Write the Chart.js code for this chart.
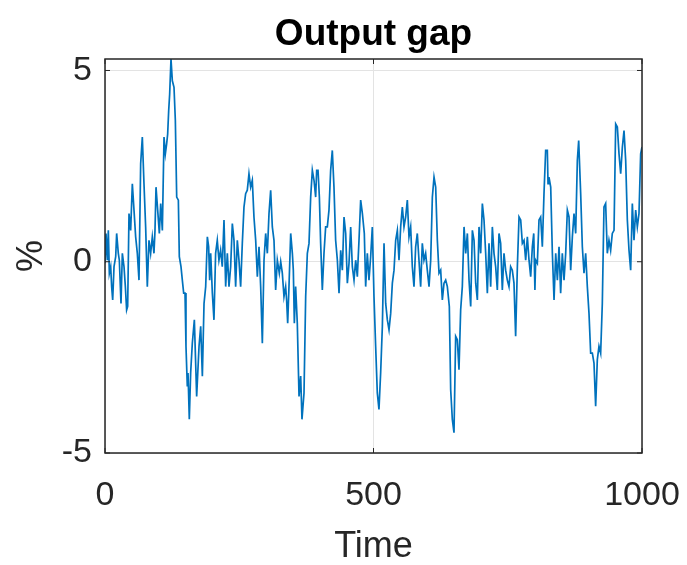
<!DOCTYPE html>
<html>
<head>
<meta charset="utf-8">
<script src="https://cdn.jsdelivr.net/npm/chart.js@4"></script>
<style>
  html, body { margin: 0; padding: 0; background: #fff; }
  #wrap { width: 687px; height: 565px; }
</style>
</head>
<body>
<div id="wrap"><canvas id="gapChart"></canvas></div>
<script>
// time points and output gap (%)
const times = [
  0.0, 1.9, 4.3, 6.2, 8.1, 10.6, 12.4, 14.3, 16.8, 19.9, 21.7, 24.8, 26.7, 29.8, 32.3, 35.4, 37.9, 40.3, 42.2, 44.7,
  47.8, 50.9, 54.0, 57.1, 60.2, 63.3, 66.4, 69.5, 72.6, 75.7, 78.8, 81.9, 85.0, 88.1, 91.2, 93.1, 95.0, 98.1, 101.2, 103.7,
  106.8, 109.9, 112.4, 114.8, 116.7, 118.6, 120.4, 122.9, 125.4, 128.5, 131.0, 133.5, 136.6, 138.4, 141.5, 144.0, 146.5, 149.0, 150.8, 153.3,
  154.6, 157.0, 159.5, 162.6, 166.4, 170.7, 175.1, 178.2, 181.3, 184.4, 187.5, 190.6, 193.0, 194.9, 196.8, 199.9, 202.9, 206.0, 209.1, 212.2,
  215.3, 218.4, 221.6, 224.7, 227.8, 230.9, 234.0, 237.1, 240.2, 243.3, 246.4, 249.5, 252.6, 255.7, 258.8, 261.9, 265.0, 268.1, 271.2, 274.3,
  277.4, 280.6, 283.7, 286.8, 289.9, 293.0, 296.1, 299.2, 302.3, 305.4, 308.5, 311.6, 314.7, 317.8, 320.9, 324.6, 327.2, 330.2, 333.3, 336.4,
  338.2, 340.2, 342.6, 345.8, 348.9, 350.7, 352.6, 355.0, 358.1, 361.3, 364.4, 366.8, 370.6, 373.7, 376.8, 379.9, 383.0, 386.1, 389.2, 392.3,
  394.2, 396.7, 399.2, 401.6, 404.7, 407.8, 410.9, 414.0, 417.1, 420.2, 423.3, 426.4, 429.5, 432.7, 435.8, 438.9, 442.0, 445.1, 448.2, 451.3,
  454.4, 457.5, 460.6, 463.7, 466.8, 469.9, 473.0, 476.1, 479.3, 482.9, 485.4, 488.5, 491.6, 494.7, 497.8, 500.9, 504.0, 507.1, 510.2, 513.3,
  516.5, 519.6, 522.7, 525.8, 528.9, 532.0, 535.1, 538.2, 541.3, 544.4, 547.5, 550.6, 553.7, 556.8, 559.9, 563.0, 566.1, 569.2, 572.3, 575.4,
  578.5, 581.6, 584.7, 587.8, 590.9, 594.0, 597.1, 600.2, 603.4, 606.5, 609.6, 612.7, 615.8, 618.9, 622.0, 625.1, 628.2, 631.3, 634.4, 637.5,
  641.2, 643.7, 646.8, 649.9, 653.0, 656.1, 659.2, 662.3, 665.4, 668.6, 671.7, 674.8, 677.9, 681.0, 684.1, 687.2, 690.3, 693.4, 696.5, 699.6,
  702.7, 705.8, 708.9, 712.0, 715.1, 718.2, 721.3, 724.4, 727.5, 730.6, 733.7, 736.8, 739.9, 743.0, 746.1, 749.2, 752.3, 755.4, 758.5, 761.6,
  764.7, 767.9, 771.0, 774.1, 777.2, 780.3, 783.4, 786.5, 789.6, 792.7, 795.8, 798.4, 800.6, 802.0, 805.1, 808.2, 811.3, 814.4, 817.5, 820.6,
  823.7, 825.0, 826.8, 830.0, 833.1, 836.2, 839.3, 842.4, 845.5, 848.5, 851.6, 854.8, 857.9, 861.0, 864.1, 867.2, 870.3, 873.4, 876.5, 879.6,
  882.1, 885.8, 888.9, 892.0, 895.1, 898.2, 901.3, 904.4, 907.5, 910.6, 913.7, 916.8, 919.9, 923.0, 926.1, 929.2, 932.3, 935.4, 938.5, 941.6,
  944.7, 947.9, 951.0, 954.1, 957.2, 960.3, 963.4, 966.5, 969.6, 972.7, 975.8, 978.9, 982.0, 985.1, 988.2, 991.3, 994.4, 997.5, 1000.0
];
const gap = [
  -0.04, 0.74, 0.04, 0.82, -0.30, -0.13, -0.65, -1.0, -0.13, 0.13, 0.74, 0.22, 0.04, -1.09, 0.22, -0.13, -0.65, -1.26, -1.17, 1.26,
  0.82, 2.04, 1.35, 0.65, 0.22, -0.48, 2.56, 3.26, 2.04, 0.91, -0.65, 0.56, 0.22, 0.65, 0.22, 0.82, 1.95, 1.35, 0.74, 1.52,
  0.82, 3.26, 2.82, 3.08, 3.34, 3.95, 4.38, 5.3, 4.73, 4.56, 3.69, 1.69, 1.61, 0.13, -0.13, -0.48, -0.82, -0.82, -2.21, -3.26,
  -2.91, -4.12, -2.91, -2.13, -1.52, -3.52, -2.21, -1.69, -2.99, -1.09, -0.65, 0.65, 0.39, -0.48, 0.22, -0.82, -1.52, 0.22, 0.56, 0.04,
  0.30, -0.13, 1.09, -0.65, 0.22, -0.65, -0.13, 1.0, 0.56, -0.65, 0.56, 0.04, -0.65, 0.48, 1.43, 1.78, 1.87, 2.30, 1.95, 2.13,
  1.17, 0.56, -0.39, 0.39, -0.65, -2.13, 0.04, 0.74, 0.22, 1.26, 1.87, 0.91, 0.56, -0.74, 0.04, -0.30, 0.0, -0.30, -0.91, -0.65,
  -1.0, -1.61, -0.65, 0.74, 0.22, -0.22, -1.61, -0.65, -1.61, -3.52, -2.99, -4.12, -3.43, -0.91, 0.22, 0.48, 1.69, 2.39, 2.13, 1.69,
  2.39, 2.39, 1.69, 0.48, -0.74, 0.22, 0.91, 0.91, 1.35, 2.39, 2.91, 1.95, 0.56, 0.04, -0.82, 0.30, -0.22, 1.17, 0.74, -0.56,
  -0.04, 0.91, -0.13, -0.48, 0.04, -0.39, 0.56, 1.61, 1.26, 0.74, -0.65, 0.22, -0.48, 0.13, 0.91, -0.91, -2.21, -3.43, -3.86, -2.91,
  -1.69, 0.48, -1.09, -1.52, -1.78, -1.35, -0.56, -0.22, 0.56, 0.82, 0.04, 0.91, 1.43, 0.91, 1.17, 1.61, 0.65, 0.91, -0.13, -0.65,
  0.39, 0.74, 0.04, -0.65, 0.48, 0.04, 0.22, -0.22, -0.65, 0.04, 1.69, 2.21, 1.95, 0.56, -0.30, -0.22, -1.0, -0.56, -0.48, -0.65,
  -1.17, -3.34, -4.12, -4.47, -1.95, -2.04, -2.82, -1.26, -0.65, 0.91, 0.22, 0.74, -0.48, -1.17, 0.82, 0.56, -0.56, -1.0, 0.91, 0.22,
  1.52, 1.09, 0.22, -0.82, 0.48, -0.65, 0.91, 0.22, -0.13, -0.74, 0.74, 0.48, -0.74, 0.22, -0.22, -0.48, -0.65, -0.13, -0.22, -0.56,
  -1.95, -0.13, 1.17, 1.09, 0.48, 0.56, 0.04, 0.65, 0.04, -0.39, 0.39, 0.74, -0.74, 0.04, -0.04, 1.09, 1.17, 0.39, 1.78, 2.91,
  2.91, 2.04, 2.21, 1.95, 0.22, -1.0, 0.22, -0.48, 0.39, -0.82, 0.22, -0.48, 0.22, 1.35, 1.17, -0.22, 0.65, 1.26, 0.74, 2.65,
  3.17, 1.78, 0.39, -0.30, 0.22, -0.65, -1.35, -2.39, -2.39, -2.65, -3.78, -2.56, -2.21, -2.39, -1.09, 1.43, 1.52, 0.22, 0.56, 0.30,
  0.74, 0.82, 3.60, 3.52, 2.82, 2.30, 2.99, 3.43, 2.65, 1.09, 0.30, -0.22, 1.52, 0.56, 1.35, 0.91, 1.26, 2.82, 3.0
];

const xTicks = [0, 500, 1000];
const yTicks = [-5, 0, 5];
const xRange = [0, 1000];
const yRange = [-5, 5.3];

const FONT = "'Liberation Sans', Arial, Helvetica, sans-serif";
const AXIS = '#262626';

// MATLAB style box: full frame plus short inward ticks on all four sides
const boxPlugin = {
  id: 'box',
  afterDraw(chart) {
    const { ctx, chartArea: a, scales } = chart;
    ctx.save();
    ctx.strokeStyle = AXIS;
    ctx.lineWidth = 1.5;
    ctx.strokeRect(a.left, a.top, a.right - a.left, a.bottom - a.top);
    ctx.lineWidth = 1;
    const len = 5;
    xTicks.forEach(v => {
      const px = scales.x.getPixelForValue(v);
      ctx.beginPath();
      ctx.moveTo(px, a.bottom); ctx.lineTo(px, a.bottom - len);
      ctx.moveTo(px, a.top); ctx.lineTo(px, a.top + len);
      ctx.stroke();
    });
    yTicks.forEach(v => {
      const py = scales.y.getPixelForValue(v);
      ctx.beginPath();
      ctx.moveTo(a.left, py); ctx.lineTo(a.left + len, py);
      ctx.moveTo(a.right, py); ctx.lineTo(a.right - len, py);
      ctx.stroke();
    });
    ctx.restore();
  }
};

new Chart(document.getElementById('gapChart'), {
  type: 'line',
  data: {
    datasets: [{
      data: times.map((t, i) => ({ x: t, y: gap[i] })),
      borderColor: '#0072BD',
      borderWidth: 1.7,
      pointRadius: 0,
      tension: 0,
      fill: false
    }]
  },
  options: {
    responsive: true,
    maintainAspectRatio: false,
    animation: false,
    layout: { padding: { left: 0, right: 45, top: 0, bottom: 0 } },
    plugins: {
      legend: { display: false },
      tooltip: { enabled: false }
    },
    scales: {
      // empty top axis, used only to centre the title over the plot box
      top: {
        type: 'linear',
        position: 'top',
        min: xRange[0],
        max: xRange[1],
        afterFit: s => { s.height = 59; s.paddingLeft = 0; s.paddingRight = 0; },
        grid: { display: false },
        border: { display: false },
        ticks: { display: false },
        title: {
          display: true,
          text: 'Output gap',
          color: '#000',
          font: { family: FONT, size: 37, weight: 'bold', lineHeight: 1.2 },
          padding: { top: 13, bottom: 0 }
        }
      },
      x: {
        type: 'linear',
        min: xRange[0],
        max: xRange[1],
        afterBuildTicks: s => { s.ticks = xTicks.map(v => ({ value: v })); },
        afterFit: s => { s.height = 112; s.paddingLeft = 0; s.paddingRight = 0; },
        grid: { color: '#e3e3e3', lineWidth: 1, drawTicks: false },
        border: { display: false },
        ticks: {
          color: AXIS,
          padding: 22,
          maxRotation: 0,
          font: { family: FONT, size: 34 },
          callback: v => String(v)
        },
        title: {
          display: true,
          text: 'Time',
          color: AXIS,
          font: { family: FONT, size: 36, lineHeight: 1.0 },
          padding: { top: 4, bottom: 0 }
        }
      },
      y: {
        min: yRange[0],
        max: yRange[1],
        afterBuildTicks: s => { s.ticks = yTicks.map(v => ({ value: v })); },
        afterFit: s => { s.width = 105; },
        grid: { color: '#e3e3e3', lineWidth: 1, drawTicks: false },
        border: { display: false },
        ticks: {
          color: AXIS,
          padding: 13,
          font: { family: FONT, size: 34 },
          callback: v => String(v)
        },
        title: {
          display: true,
          text: '%',
          color: AXIS,
          font: { family: FONT, size: 36 },
          padding: { top: 10, bottom: 0 }
        }
      }
    }
  },
  plugins: [boxPlugin]
});
</script>
</body>
</html>
